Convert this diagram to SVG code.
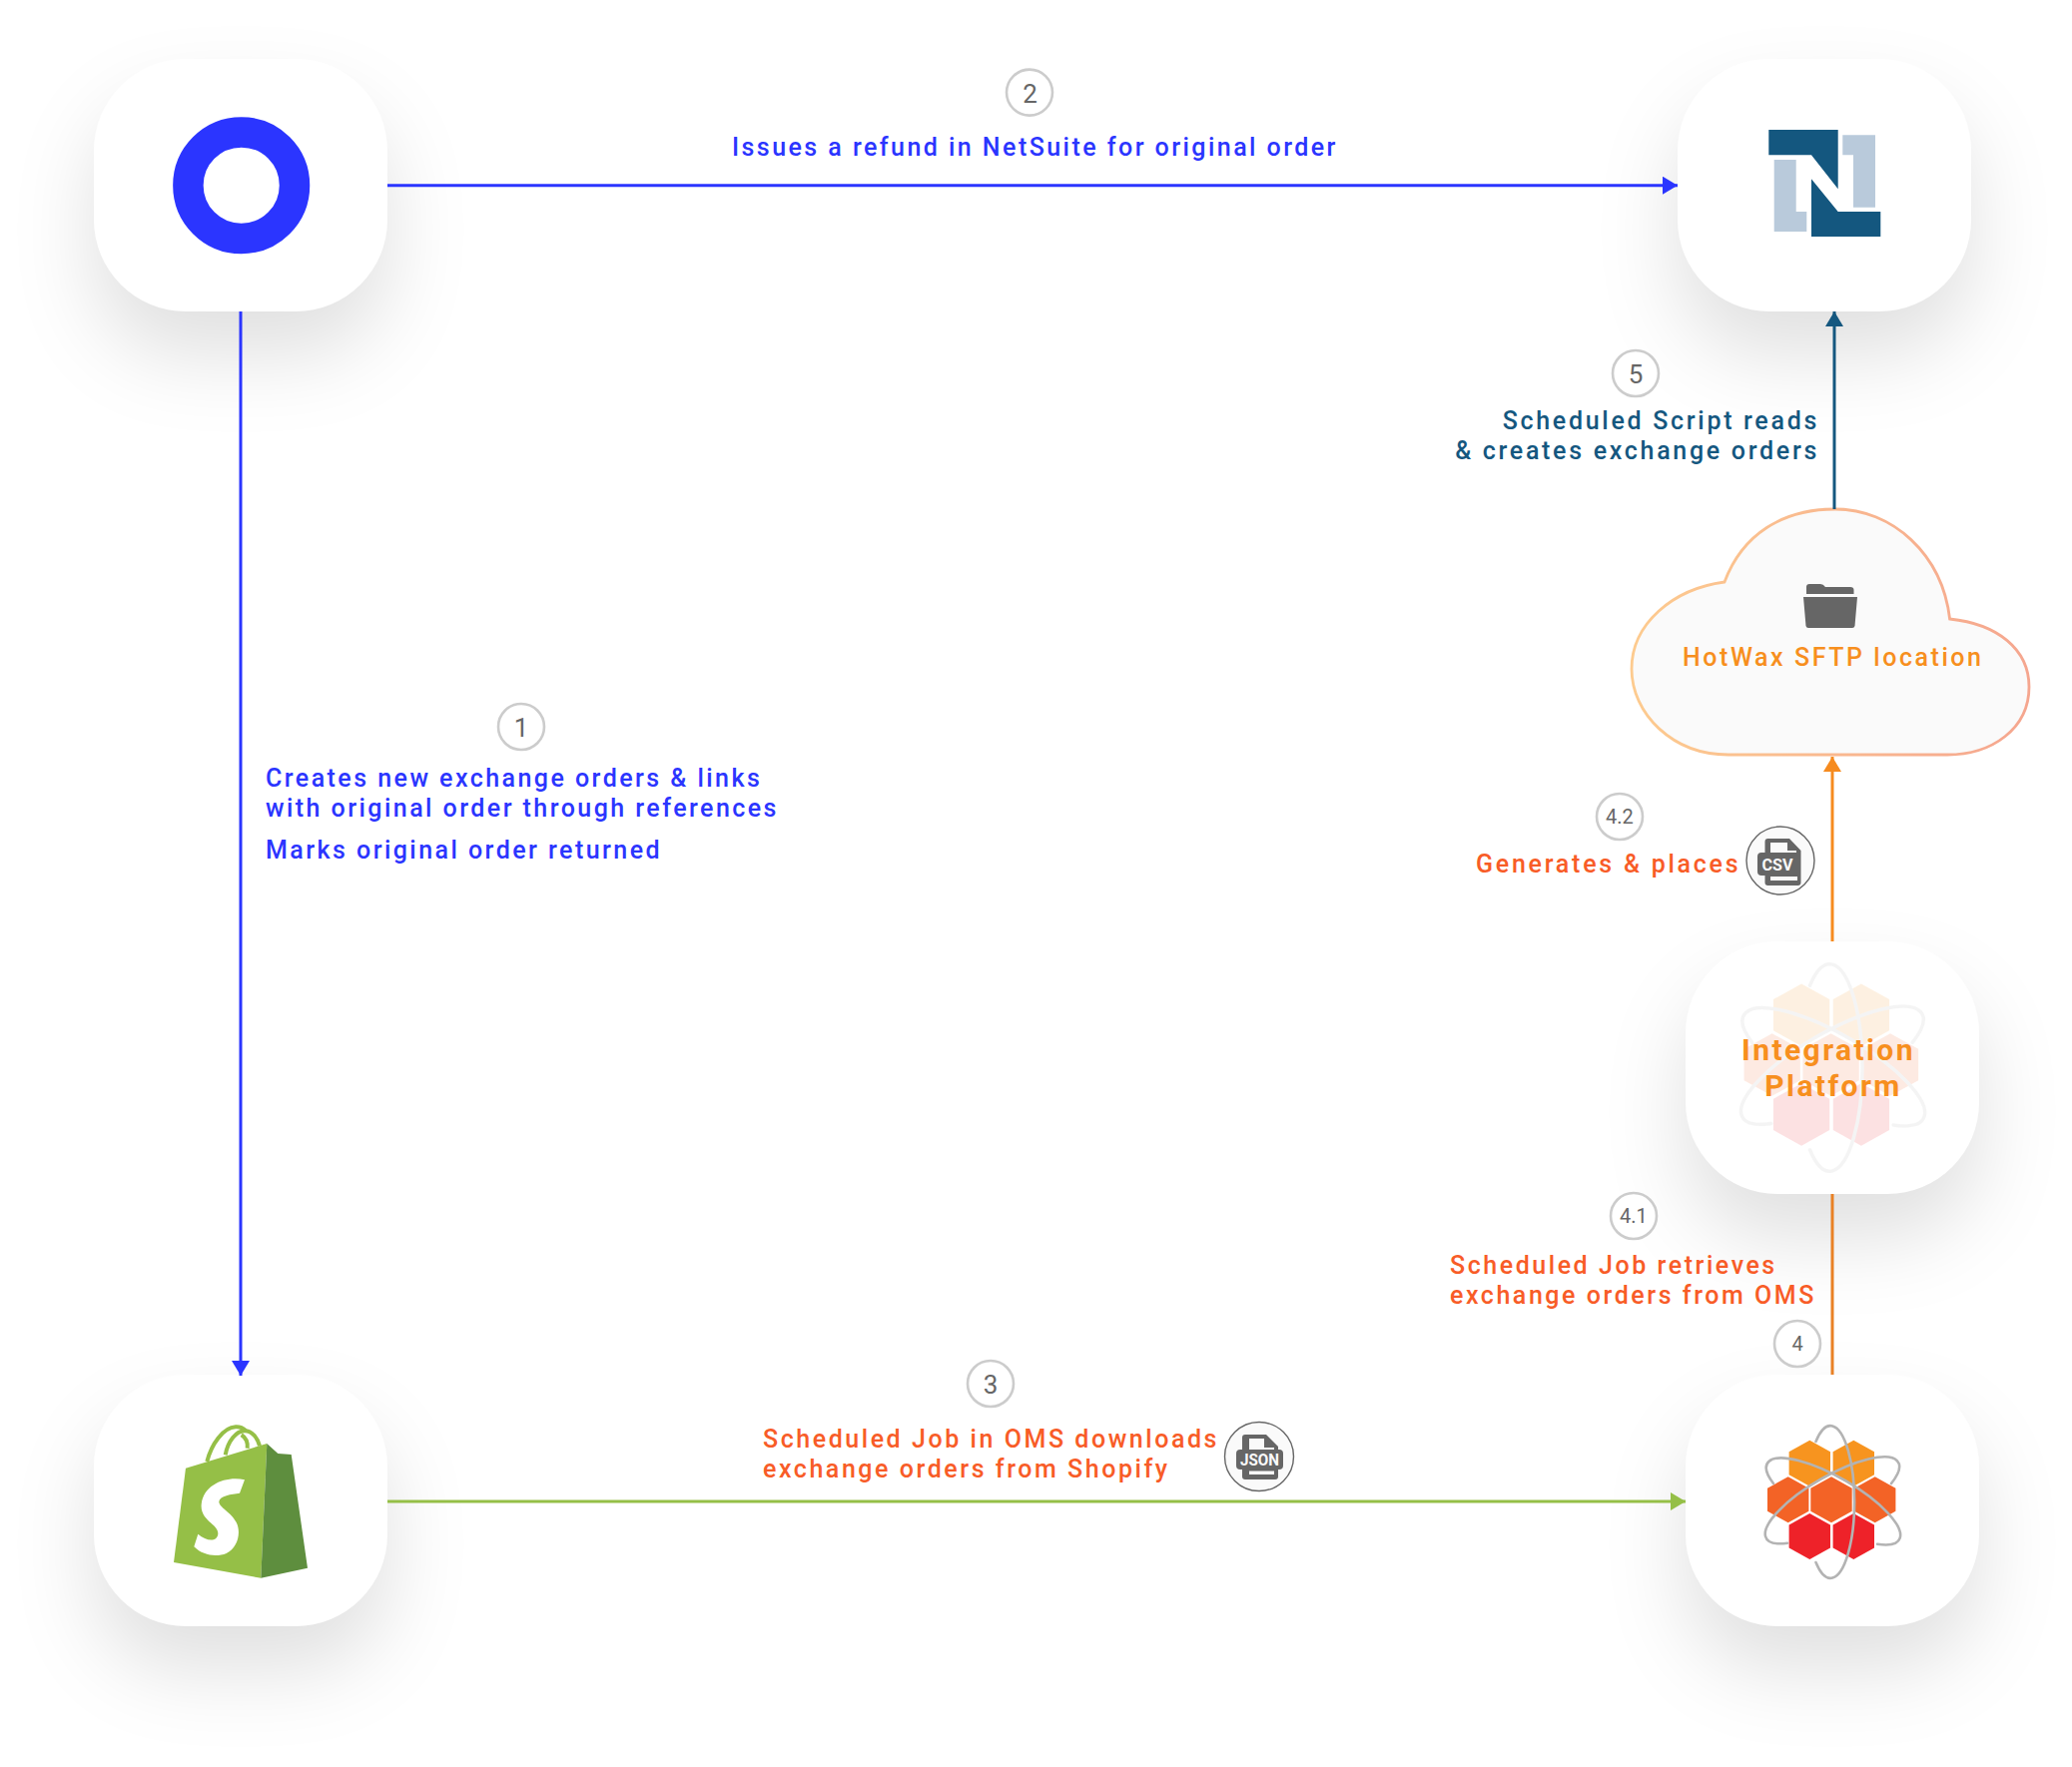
<svg xmlns="http://www.w3.org/2000/svg" xmlns:xlink="http://www.w3.org/1999/xlink" width="2075" height="1770" viewBox="0 0 2075 1770">
<style>
text{font-family:Roboto,"Liberation Sans",sans-serif}
.card{fill:#fff;filter:url(#sh)}
.lbl{font-size:25px;font-weight:500;letter-spacing:2.45px}
.blue{fill:#2b35ff}.oj{fill:#f85c27;letter-spacing:2.55px}.ns{fill:#14577f;letter-spacing:2.7px}.or{fill:#f78f1e}
.stepc{fill:#fff;stroke:#ccc;stroke-width:2.6}
.stept{font-size:26px;fill:#666;text-anchor:middle}
.sm{font-size:20px}
.ic{fill:#666}.hole{fill:#fafafa}
.icc{fill:#fafafa;stroke:#666;stroke-width:1.4}
.ict{fill:#fafafa;font-weight:700;text-anchor:middle}
.orb{fill:none;stroke:#b3b3b3;stroke-width:2.6;stroke-linecap:round}
.h1{fill:#f7941f}.h2{fill:#f36326}.h3{fill:#ee2229}
.lnb{stroke:#2b35ff}.lng{stroke:#95bf47}.lnn{stroke:#14577f}.lno{stroke:#f68b1f}.lnd{stroke:#e98125}
#connectors line{stroke-width:3;fill:none}
</style>
<defs>
<filter id="sh" x="-60%" y="-60%" width="220%" height="230%" color-interpolation-filters="sRGB">
<feDropShadow dx="0" dy="44" stdDeviation="40" flood-color="#000" flood-opacity="0.12"/>
</filter>
<linearGradient id="cg" gradientUnits="userSpaceOnUse" x1="1634" y1="640" x2="2032" y2="640">
<stop offset="0" stop-color="#fdcb8f"/><stop offset="1" stop-color="#f5a68f"/>
</linearGradient>
<marker id="ab" markerUnits="userSpaceOnUse" markerWidth="15" markerHeight="18" refX="15" refY="9" orient="auto"><path d="M0,0L15,9L0,18z" fill="#2b35ff"/></marker>
<marker id="ag" markerUnits="userSpaceOnUse" markerWidth="15" markerHeight="18" refX="15" refY="9" orient="auto"><path d="M0,0L15,9L0,18z" fill="#95bf47"/></marker>
<marker id="an" markerUnits="userSpaceOnUse" markerWidth="15" markerHeight="18" refX="15" refY="9" orient="auto"><path d="M0,0L15,9L0,18z" fill="#14577f"/></marker>
<marker id="ao" markerUnits="userSpaceOnUse" markerWidth="15" markerHeight="18" refX="15" refY="9" orient="auto"><path d="M0,0L15,9L0,18z" fill="#f68b1f"/></marker>
<polygon id="hx" points="0,-23 20.7,-11.5 20.7,11.5 0,23 -20.7,11.5 -20.7,-11.5"/>
<g id="logo">
<use xlink:href="#hx" href="#hx" class="h1" x="1812.3" y="1465.7"/>
<use xlink:href="#hx" href="#hx" class="h1" x="1856.3" y="1465.7"/>
<use xlink:href="#hx" href="#hx" class="h2" x="1790.7" y="1502.3"/>
<use xlink:href="#hx" href="#hx" class="h2" x="1834" y="1502.3"/>
<use xlink:href="#hx" href="#hx" class="h2" x="1877.7" y="1502.3"/>
<use xlink:href="#hx" href="#hx" class="h3" x="1812.3" y="1539"/>
<use xlink:href="#hx" href="#hx" class="h3" x="1856.3" y="1539"/>
<path class="orb" d="M1818.5,1444A24,76.3 0 1 1 1818.5,1565"/>
<path class="orb" d="M1776,1486A24,76.3 -60 1 1 1880,1546.7"/>
<path class="orb" d="M1894,1486A24,76.3 60 1 0 1790,1545.7"/>
</g>
</defs>
<rect width="2075" height="1770" fill="#fff"/>

<g id="node-loop">
<rect class="card" x="94" y="59" width="294" height="253" rx="92"/>
<circle cx="241.7" cy="185.7" r="53.3" fill="none" stroke="#2b35ff" stroke-width="30.5"/>
</g>
<g id="node-netsuite">
<rect class="card" x="1680" y="59" width="294" height="253" rx="92"/>
<path fill="#14577f" d="M1771.3,130H1840.7V189.3L1814,155.3H1771.3zM1814,179.3L1840.7,212H1883.3V237H1814z"/>
<path fill="#b9cadb" d="M1776.7,160H1798.7V212H1809.3V232H1776.7zM1845.3,135.3H1878V207.7H1856V155.3H1845.3z"/>
</g>
<g id="node-shopify">
<rect class="card" x="94" y="1377" width="294" height="252" rx="92"/>
<path fill="#95bf47" d="M174,1565L186,1470.7L267.3,1446L261.3,1580.7z"/>
<path fill="#5e8e3e" d="M267.3,1446L278.3,1456L291.7,1457L308,1570.7L261.3,1580.7z"/>
<g fill="none" stroke="#95bf47" stroke-width="4">
<path d="M207.3,1464C211.7,1446.7 223.3,1430 236,1429.3C241.7,1429 244,1431 246,1433"/>
<path d="M225.7,1457.3C228.3,1443.3 236.7,1433.3 245,1433.3C253.3,1433.3 258.3,1441.7 260,1448.3"/>
<path d="M247.7,1450.7C248.3,1445 246,1440 241.7,1437.3"/>
</g>
<path fill="#fff" d="M245,1482.3C226.7,1478.3 204,1486.7 201.7,1506.7C200,1523.3 219.3,1526.7 218.3,1536.7C217.3,1545 206.7,1544 198.3,1536.7L194.3,1549.3C203.3,1558.3 216.7,1560 226.7,1556C238.3,1550 241.7,1535 236.7,1525C231.7,1515 219.3,1510 219.3,1504.3C220,1498.3 231.7,1496.7 240,1495.7z"/>
</g>
<g id="node-oms">
<rect class="card" x="1688" y="1377" width="294" height="252" rx="92"/>
<use xlink:href="#logo" href="#logo"/>
</g>
<g id="node-integration">
<rect class="card" x="1688" y="943" width="294" height="253" rx="92"/>
<use xlink:href="#logo" href="#logo" opacity="0.13" transform="translate(1834,1066.5) scale(1.36) translate(-1834.3,-1502.3)"/>
<text class="or" font-size="30" font-weight="700" letter-spacing="2.4" text-anchor="middle" x="1831" y="1062">Integration</text>
<text class="or" font-size="30" font-weight="700" letter-spacing="2.4" text-anchor="middle" x="1836" y="1098">Platform</text>
</g>
<g id="node-sftp">
<path fill="#fafafa" stroke="url(#cg)" stroke-width="2.8" d="M1727,583C1745,535 1785,510 1838,510C1895,510 1945,555 1952.6,620C2000,625 2032,650 2032,688C2032,730 1995,756 1950,756H1731C1675,756 1634,715 1634,670C1634,625 1675,590 1727,583z"/>
<path class="ic" d="M1812,585H1823Q1826,585 1828,588H1853Q1856.5,588 1856.5,591V595H1809V588Q1809,585 1812,585zM1806,598H1860L1857.5,627Q1857,629 1855,629H1811Q1809,629 1808.500,627z"/>
<text class="lbl or" letter-spacing="2.55" style="letter-spacing:2.55px" x="1685" y="667">HotWax SFTP location</text>
</g>

<g id="connectors">
<line class="lnb" x1="241" y1="312" x2="241" y2="1378" marker-end="url(#ab)"/>
<line class="lnb" x1="388" y1="185.700" x2="1680" y2="185.700" marker-end="url(#ab)"/>
<line class="lng" x1="388" y1="1504" x2="1688" y2="1504" marker-end="url(#ag)"/>
<line class="lnd" x1="1835" y1="1377" x2="1835" y2="1196"/>
<line class="lno" x1="1835" y1="943" x2="1835" y2="758" marker-end="url(#ao)"/>
<line class="lnn" x1="1837" y1="510" x2="1837" y2="312" marker-end="url(#an)"/>
</g>

<g id="label-1">
<circle class="stepc" cx="522" cy="728" r="23"/><text class="stept" x="522" y="738">1</text>
<text class="lbl blue" x="266" y="788">Creates new exchange orders &amp; links</text>
<text class="lbl blue" x="266" y="818">with original order through references</text>
<text class="lbl blue" x="266" y="860">Marks original order returned</text>
</g>
<g id="label-2">
<circle class="stepc" cx="1031" cy="92.600" r="23"/><text class="stept" x="1031.500" y="102.500">2</text>
<text class="lbl blue" x="733" y="156">Issues a refund in NetSuite for original order</text>
</g>
<g id="label-3">
<circle class="stepc" cx="992" cy="1386" r="23"/><text class="stept" x="992" y="1396">3</text>
<text class="lbl oj" x="764" y="1450">Scheduled Job in OMS downloads</text>
<text class="lbl oj" x="764" y="1479.500">exchange orders from Shopify</text>
<circle class="icc" cx="1261" cy="1459" r="34.500"/>
<path class="ic" d="M1247,1437H1268L1280,1449V1479a3,3 0 0 1-3,3H1247a3,3 0 0 1-3-3V1440a3,3 0 0 1 3-3z"/>
<rect class="ic" x="1238" y="1452" width="47" height="20" rx="4"/>
<path class="hole" d="M1251,1441H1266V1450H1276V1452H1251z"/>
<rect class="hole" x="1251" y="1473.500" width="25" height="3.500"/>
<text class="ict" font-size="16.500" x="1261.500" y="1468" textLength="39" lengthAdjust="spacingAndGlyphs">JSON</text>
</g>
<g id="label-4">
<circle class="stepc" cx="1800" cy="1346" r="23"/><text class="stept sm" x="1800" y="1353">4</text>
</g>
<g id="label-41">
<circle class="stepc" cx="1636" cy="1218" r="23"/><text class="stept sm" x="1636" y="1225">4.1</text>
<text class="lbl oj" x="1452" y="1276">Scheduled Job retrieves</text>
<text class="lbl oj" x="1452" y="1306">exchange orders from OMS</text>
</g>
<g id="label-42">
<circle class="stepc" cx="1622" cy="818" r="23"/><text class="stept sm" x="1622" y="825">4.2</text>
<text class="lbl oj" style="letter-spacing:2.75px" x="1478" y="873.500">Generates &amp; places</text>
<circle class="icc" cx="1783" cy="862" r="34"/>
<path class="ic" d="M1770.5,840H1792L1803.500,852V884a3,3 0 0 1-3,3H1770.5a3,3 0 0 1-3-3V843a3,3 0 0 1 3-3z"/>
<rect class="ic" x="1760" y="854" width="40" height="23" rx="4"/>
<path class="hole" d="M1773,844H1790V852H1799V854H1773z"/>
<rect class="hole" x="1773" y="878" width="27" height="4"/>
<text class="ict" font-size="17" x="1780" y="872" textLength="31" lengthAdjust="spacingAndGlyphs">CSV</text>
</g>
<g id="label-5">
<circle class="stepc" cx="1638" cy="374" r="23"/><text class="stept" x="1638" y="383.500">5</text>
<text class="lbl ns" text-anchor="end" x="1822" y="429.500">Scheduled Script reads</text>
<text class="lbl ns" text-anchor="end" x="1822" y="460">&amp; creates exchange orders</text>
</g>
</svg>
